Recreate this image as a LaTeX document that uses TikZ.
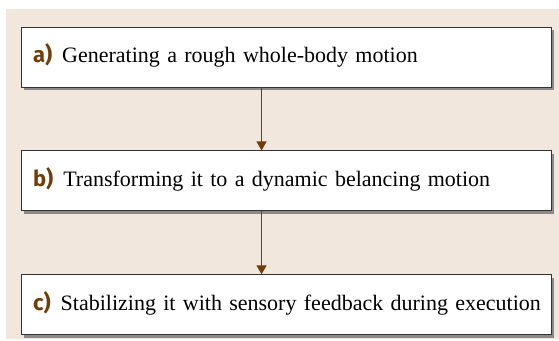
\documentclass[tikz,border=0pt]{standalone}
\usepackage{fontspec}
\setmainfont{Liberation Serif}
\newfontfamily\steplabelfont{Fira Sans}
\usetikzlibrary{arrows.meta,positioning,shadows}
\definecolor{StepPanel}{RGB}{241,231,221}
\definecolor{StepBrown}{HTML}{6E3F0C}
\definecolor{StepEdge}{HTML}{333333}
\newcommand{\steptag}[1]{{\steplabelfont\bfseries\color{StepBrown}#1)}\hspace{5pt}}

\begin{document}
\begin{tikzpicture}[node distance=31.5pt]
    \tikzset{s/.style={minimum width=265pt,minimum height=30pt,text width=253pt,
      align=left,inner xsep=6pt,fill=white,draw=StepEdge,line width=0.45pt,
      font=\fontsize{11}{13}\selectfont,
      drop shadow={shadow xshift=1.3pt,shadow yshift=-1.5pt,fill=black!55,opacity=0.8}},
      flow/.style={draw=StepBrown,line width=0.6pt,-{Triangle[length=4.5pt,width=5pt]}}}
    \useasboundingbox (0,0) rectangle (279.5pt,-170.5pt);
    \fill[StepPanel] (3pt,-4.5pt) rectangle (279.5pt,-169.5pt);
    \node[s] (a) at (143pt,-28.5pt) {\mbox{\steptag{a}Generating a rough whole-body motion}\strut};
    \node[s,below=of a] (b) {\mbox{\steptag{b}Transforming it to a dynamic belancing motion}\strut};
    \node[s,below=of b] (c) {\mbox{\steptag{c}Stabilizing it with sensory feedback during execution}\strut};
    \draw[flow] ([xshift=120.5pt]a.south west) -- ([xshift=120.5pt]b.north west);
    \draw[flow] ([xshift=120.5pt]b.south west) -- ([xshift=120.5pt]c.north west);
  \end{tikzpicture}
\end{document}
